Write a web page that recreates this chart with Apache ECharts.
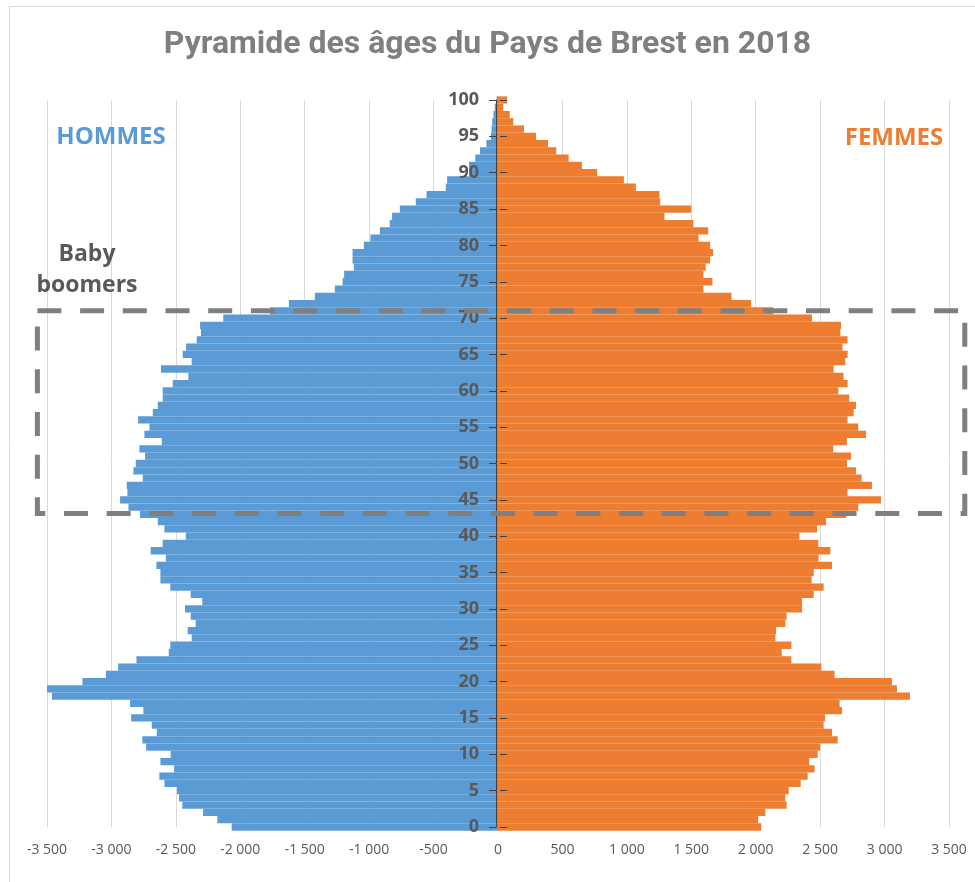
<!DOCTYPE html>
<html>
<head>
<meta charset="utf-8">
<title>Pyramide des âges du Pays de Brest en 2018</title>
<script src="https://cdn.jsdelivr.net/npm/echarts@6/dist/echarts.min.js"></script>
<style>
  html, body { margin: 0; padding: 0; background: #fff; }
  #main { width: 975px; height: 882px; }
</style>
</head>
<body>
<div id="main"></div>
<script>
// Âges (0 à 100 ans)
var ages = [
    '0', '1', '2', '3', '4', '5', '6', '7', '8', '9',
    '10', '11', '12', '13', '14', '15', '16', '17', '18', '19',
    '20', '21', '22', '23', '24', '25', '26', '27', '28', '29',
    '30', '31', '32', '33', '34', '35', '36', '37', '38', '39',
    '40', '41', '42', '43', '44', '45', '46', '47', '48', '49',
    '50', '51', '52', '53', '54', '55', '56', '57', '58', '59',
    '60', '61', '62', '63', '64', '65', '66', '67', '68', '69',
    '70', '71', '72', '73', '74', '75', '76', '77', '78', '79',
    '80', '81', '82', '83', '84', '85', '86', '87', '88', '89',
    '90', '91', '92', '93', '94', '95', '96', '97', '98', '99',
    '100'
];

// Effectifs hommes par âge (0 à 100)
var hommes = [
    2067, 2178, 2289, 2450, 2475, 2491, 2589, 2628, 2514, 2620,
    2540, 2731, 2760, 2648, 2687, 2847, 2752, 2855, 3462, 3506,
    3225, 3043, 2948, 2806, 2555, 2543, 2377, 2408, 2346, 2385,
    2429, 2295, 2385, 2543, 2620, 2620, 2651, 2578, 2695, 2602,
    2423, 2589, 2640, 2778, 2868, 2933, 2876, 2881, 2757, 2829,
    2811, 2739, 2783, 2609, 2744, 2705, 2793, 2679, 2640, 2602,
    2602, 2524, 2403, 2615, 2377, 2447, 2421, 2338, 2305, 2312,
    2132, 1770, 1623, 1421, 1266, 1206, 1194, 1119, 1129, 1129,
    1041, 990, 917, 840, 822, 762, 638, 555, 405, 395,
    225, 225, 176, 140, 90, 55, 50, 45, 35, 25,
    10
];

// Effectifs femmes par âge (0 à 100)
var femmes = [
    2044, 2019, 2075, 2240, 2230, 2256, 2349, 2403, 2457, 2416,
    2481, 2499, 2636, 2592, 2527, 2538, 2670, 2651, 3197, 3096,
    3057, 2612, 2509, 2277, 2202, 2277, 2153, 2158, 2230, 2240,
    2360, 2360, 2450, 2527, 2434, 2450, 2592, 2488, 2579, 2486,
    2339, 2476, 2546, 2701, 2796, 2972, 2713, 2902, 2822, 2778,
    2708, 2740, 2602, 2708, 2856, 2796, 2713, 2760, 2778, 2726,
    2641, 2713, 2682, 2605, 2695, 2713, 2674, 2713, 2657, 2662,
    2437, 2137, 1964, 1812, 1595, 1664, 1595, 1612, 1647, 1670,
    1647, 1556, 1631, 1517, 1292, 1499, 1259, 1253, 1070, 977,
    770, 651, 548, 452, 388, 295, 202, 119, 91, 40,
    70
];

// Cadre "baby boomers" : âges et effectifs délimitant la zone
var zoneBabyBoom = { ageMin: 43.12, ageMax: 71.0, gauche: -3605, droite: 3623 };

var titre = 'Pyramide des âges du Pays de Brest en 2018';
var bleu = '#5B9BD5', orange = '#ED7D31', gris = '#595959';

function formatMilliers(v) {
    var s = String(Math.abs(v)).replace(/\B(?=(\d{3})+(?!\d))/g, ' ');
    return (v < 0 ? '-' : '') + s;
}

var chart = echarts.init(document.getElementById('main'));

// axe des âges : un à gauche (libellés + graduations vers la gauche),
// un à droite (graduations vers la droite), tous deux ramenés sur le zéro
function axeAges(position, avecLibelles) {
    return {
        type: 'category',
        data: ages,
        position: position,
        boundaryGap: false,
        z: 10,
        offset: 0,
        axisLine: { show: avecLibelles, onZero: false, lineStyle: { color: '#404040', width: 1 } },
        axisTick: { interval: 4, length: 7, lineStyle: { color: '#404040' } },
        axisLabel: {
            show: avecLibelles,
            interval: 4,
            margin: 17,
            color: gris,
            fontFamily: 'Open Sans',
            fontWeight: 'bold',
            fontSize: 18
        },
        splitLine: { show: false }
    };
}

var option = {
    backgroundColor: '#ffffff',
    animation: false,
    title: {
        text: titre,
        left: 'center',
        top: 24,
        textStyle: { fontFamily: 'Roboto', fontWeight: 'bold', fontSize: 32, color: '#7f7f7f' }
    },
    grid: { left: 47, right: 26, top: 100, bottom: 55 },
    xAxis: [{
        type: 'value',
        min: -3500,
        max: 3500,
        interval: 500,
        axisLine: { show: false },
        axisTick: { show: false },
        splitLine: { lineStyle: { color: '#d9d9d9', width: 1 } },
        axisLabel: {
            formatter: formatMilliers,
            color: gris,
            fontFamily: 'Open Sans',
            fontSize: 14,
            margin: 16
        }
    }],
    yAxis: [axeAges('left', true), axeAges('right', false)],
    series: [{
        name: 'Hommes',
        type: 'bar',
        yAxisIndex: 0,
        data: hommes.map(function (v) { return -v; }),
        barGap: '-100%',
        barCategoryGap: 0,
        itemStyle: { color: bleu }
    }, {
        name: 'Femmes',
        type: 'bar',
        yAxisIndex: 0,
        data: femmes,
        barGap: '-100%',
        barCategoryGap: 0,
        itemStyle: { color: orange }
    }]
};

chart.setOption(option);

// décalage des axes des âges jusqu'au zéro de l'axe des effectifs
var xZero = chart.convertToPixel({ xAxisIndex: 0 }, 0);
var xMin = chart.convertToPixel({ xAxisIndex: 0 }, -3500);
var xMax = chart.convertToPixel({ xAxisIndex: 0 }, 3500);

// position du cadre en pixels, calculée depuis les axes
var pBas = chart.convertToPixel({ gridIndex: 0 }, [0, '0']);
var pHaut = chart.convertToPixel({ gridIndex: 0 }, [0, '100']);
function yAge(a) { return pBas[1] + (pHaut[1] - pBas[1]) * a / 100; }
var xG = chart.convertToPixel({ xAxisIndex: 0 }, zoneBabyBoom.gauche);
var xD = chart.convertToPixel({ xAxisIndex: 0 }, zoneBabyBoom.droite);
var yH = yAge(zoneBabyBoom.ageMax), yB = yAge(zoneBabyBoom.ageMin);

chart.setOption({
    yAxis: [{ offset: -(xZero - xMin) }, { offset: -(xMax - xZero) }],
    graphic: [{
        type: 'rect',
        z: 100,
        silent: true,
        shape: { x: 9.5, y: 6.5, width: 1000, height: 1000 },
        style: { fill: 'none', stroke: '#d9d9d9', lineWidth: 1 }
    }, {
        type: 'rect',
        z: 100,
        silent: true,
        shape: { x: xG, y: yH, width: xD - xG, height: yB - yH },
        style: { fill: 'none', stroke: '#7f7f7f', lineWidth: 5, lineDash: [24, 18.7] }
    }, {
        type: 'text',
        z: 100,
        x: 111, y: 137,
        style: { text: 'HOMMES', fill: bleu, font: 'bold 24px "Open Sans"', align: 'center', verticalAlign: 'middle' }
    }, {
        type: 'text',
        z: 100,
        x: 894, y: 138,
        style: { text: 'FEMMES', fill: orange, font: 'bold 24px "Open Sans"', align: 'center', verticalAlign: 'middle' }
    }, {
        type: 'text',
        z: 100,
        x: 87, y: 270,
        style: { text: 'Baby\nboomers', fill: gris, font: 'bold 23px "Open Sans"', lineHeight: 31, align: 'center', verticalAlign: 'middle' }
    }]
});
</script>
</body>
</html>
